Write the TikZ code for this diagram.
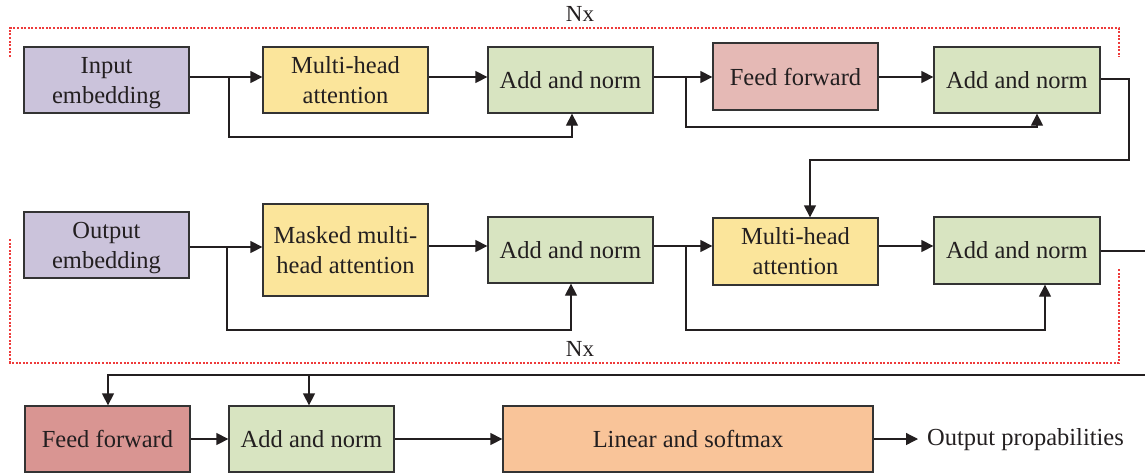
\documentclass[tikz,border=0pt]{standalone}
\usepackage{fontspec}
\setmainfont{Liberation Serif}
\usetikzlibrary{arrows.meta}

\definecolor{embedc}{HTML}{CBC3DB}
\definecolor{attnc}{HTML}{FBE59B}
\definecolor{normc}{HTML}{D8E4C1}
\definecolor{fflight}{HTML}{E5B9B5}
\definecolor{ffdark}{HTML}{D99592}
\definecolor{linc}{HTML}{F9C499}
\definecolor{inkc}{HTML}{231F20}
\definecolor{edgec}{HTML}{333333}
\definecolor{nxred}{HTML}{EE3B3B}

% a text line whose descenders do not count for centring
\newcommand{\nodepth}[1]{\raisebox{0pt}[\height][0pt]{#1}}

\tikzset{
  blk/.style={draw=edgec, line width=1.3pt, minimum width=165pt, minimum height=66pt,
    inner sep=0pt, align=center, text=inkc, font=\fontsize{24.5}{30}\selectfont},
  conn/.style={draw=inkc, line width=1.3pt},
  arr/.style={conn, -{Triangle[length=12pt,width=12pt]}},
  nxbox/.style={draw=nxred, line width=1.4pt, dash pattern=on 2pt off 1.6pt},
  lbl/.style={text=inkc, inner sep=0pt, font=\fontsize{24.5}{30}\selectfont}
}

\begin{document}
\begin{tikzpicture}[x=1pt, y=-1pt]
\useasboundingbox (0,0) rectangle (1145,475);

% ---- encoder row ----
\node[blk, fill=embedc] (ie) at (106.5,80) {Input\\\nodepth{embedding}};
\node[blk, fill=attnc] (mha1) at (345.5,80) {Multi-head\\attention};
\node[blk, fill=normc] (an1) at (570.5,80) {Add and norm};
\node[blk, fill=fflight, minimum height=67pt] (ff1) at (795.5,76.5) {Feed forward};
\node[blk, fill=normc, minimum width=166pt] (an2) at (1017,80) {Add and norm};

% ---- decoder row ----
\node[blk, fill=embedc] (oe) at (106.5,245) {Output\\\nodepth{embedding}};
\node[blk, fill=attnc, minimum height=92pt] (mmha) at (345.5,250) {Masked multi-\\head attention};
\node[blk, fill=normc] (an3) at (570.5,250) {Add and norm};
\node[blk, fill=attnc, minimum height=67pt] (mha2) at (795.5,251.5) {Multi-head\\attention};
\node[blk, fill=normc, minimum width=166pt, minimum height=67pt] (an4) at (1017,250.5) {Add and norm};

% ---- output row ----
\node[blk, fill=ffdark] (ff2) at (107.5,439) {Feed forward};
\node[blk, fill=normc] (an5) at (311.5,439) {Add and norm};
\node[blk, fill=linc, minimum width=370pt] (lin) at (688,439) {Linear and softmax};
\node[lbl, anchor=west] (out) at (927,440) {Output propabilities};
\coordinate (tip) at ([xshift=-9pt]out.west);

% repeat-block frames
\node[lbl, font=\fontsize{23}{28}\selectfont] (nxtop) at (580,14) {Nx};
\node[lbl, font=\fontsize{23}{28}\selectfont] (nxbot) at (580,349) {Nx};
\draw[nxbox] (10,57) -- (10,28) -- (1119,28) -- (1119,57);
\draw[nxbox] (10,239) -- (10,363) -- (1119,363) -- (1119,269);

% row levels and branch points
\coordinate (r1) at (0,77);
\coordinate (r2) at (0,246);
\coordinate (k1) at (229,77);
\coordinate (k1b) at (572,137);
\coordinate (k2) at (686,77);
\coordinate (k2b) at (1037,127);
\coordinate (turn1) at (1129,160);
\coordinate (k3) at (227,247);
\coordinate (k3b) at (571,330);
\coordinate (k4) at (686,246);
\coordinate (k4b) at (1045,330);
\coordinate (turn2) at (1160,375);
\coordinate (k5) at (309,375);

% encoder connectors
\draw[arr] (ie.east |- r1) -- (mha1.west |- r1);
\draw[arr] (k1) |- (k1b) -- (k1b |- an1.south);
\draw[arr] (mha1.east |- r1) -- (an1.west |- r1);
\draw[arr] (an1.east |- r1) -- (ff1.west |- r1);
\draw[arr] (k2) |- (k2b) -- (k2b |- an2.south);
\draw[arr] (ff1.east |- r1) -- (an2.west |- r1);
\draw[arr] ([yshift=1pt]an2.east) -| (turn1) -| ([xshift=14.5pt]mha2.north);

% decoder connectors
\draw[arr] ([yshift=-2pt]oe.east) -- ([yshift=3pt]mmha.west);
\draw[arr] (k3) |- (k3b) -- (k3b |- an3.south);
\draw[arr] (mmha.east |- r2) -- (an3.west |- r2);
\draw[arr] (an3.east |- r2) -- (mha2.west |- r2);
\draw[arr] (k4) |- (k4b) -- (k4b |- an4.south);
\draw[arr] (mha2.east |- r2) -- (an4.west |- r2);
\draw[arr] ([yshift=-0.5pt]an4.east) -| (turn2) -| ([xshift=0.5pt]ff2.north);
\draw[arr] (k5) -- (k5 |- an5.north);

% output connectors
\draw[arr] (ff2.east) -- (an5.west);
\draw[arr] (an5.east) -- (lin.west);
\draw[arr] (lin.east) -- (lin.east -| tip);
\end{tikzpicture}
\end{document}
